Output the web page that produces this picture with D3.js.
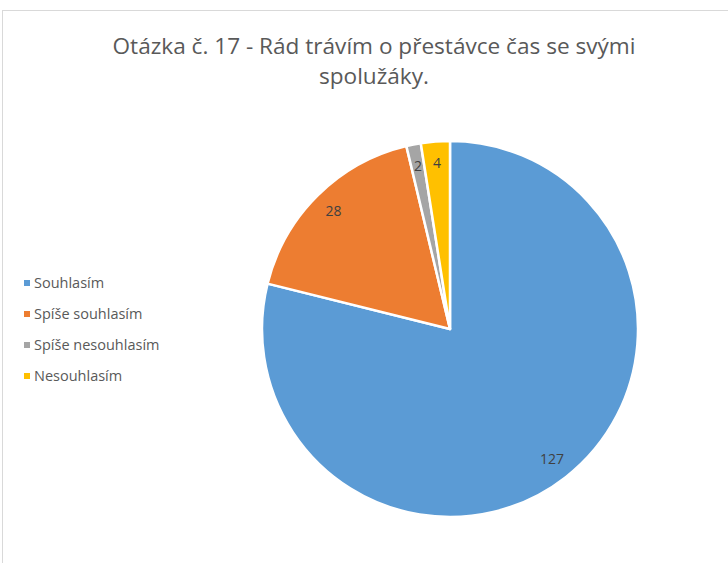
<!DOCTYPE html>
<html><head><meta charset="utf-8">
<script src="https://cdn.jsdelivr.net/npm/d3@7"></script>
<style>body{margin:0;background:#fff}</style>
</head><body>
<svg id="c" width="728" height="563"></svg>
<script>
const categories = ["Souhlasím", "Spíše souhlasím", "Spíše nesouhlasím", "Nesouhlasím"];
const values = [127, 28, 2, 4];
const colors = ["#5b9bd5", "#ed7d31", "#a5a5a5", "#ffc000"];
const titleLines = ["Otázka č. 17 - Rád trávím o přestávce čas se svými", "spolužáky."];

const svg = d3.select("#c");
const font = "'Open Sans', Lato, sans-serif";

// chart border
svg.append("rect").attr("x", 2.5).attr("y", 10.5).attr("width", 730).attr("height", 600)
  .attr("fill", "none").attr("stroke", "#d9d9d9").attr("stroke-width", 1);

// title
svg.append("g").selectAll("text").data(titleLines).join("text")
  .attr("x", 374).attr("y", (d, i) => 54 + i * 30)
  .attr("text-anchor", "middle").attr("font-family", font).attr("font-size", 22.6)
  .attr("fill", "#595959").text(d => d);

// pie
const cx = 450, cy = 329, r = 188;
const pie = d3.pie().sort(null).value(d => d)(values);
const arc = d3.arc().innerRadius(0).outerRadius(r);
const g = svg.append("g").attr("transform", `translate(${cx},${cy})`);
g.selectAll("path").data(pie).join("path")
  .attr("d", arc).attr("fill", (d, i) => colors[i])
  .attr("stroke", "#fff").attr("stroke-width", 2.5).attr("stroke-linejoin", "round");

const labelArc = d3.arc().innerRadius(r * 0.88).outerRadius(r * 0.88);
g.selectAll("text").data(pie).join("text")
  .attr("transform", d => `translate(${labelArc.centroid(d)})`)
  .attr("text-anchor", "middle").attr("dy", "0.3em")
  .attr("font-family", font).attr("font-size", 14).attr("fill", "#404040")
  .text(d => d.data);

// legend
const leg = svg.append("g").attr("transform", "translate(24,283)");
const items = leg.selectAll("g").data(categories).join("g")
  .attr("transform", (d, i) => `translate(0,${i * 31})`);
items.append("rect").attr("x", 0).attr("y", -3).attr("width", 6).attr("height", 6)
  .attr("fill", (d, i) => colors[i]);
items.append("text").attr("x", 10).attr("dy", "0.35em")
  .attr("font-family", font).attr("font-size", 14.5).attr("fill", "#595959").text(d => d);
</script>
</body></html>
